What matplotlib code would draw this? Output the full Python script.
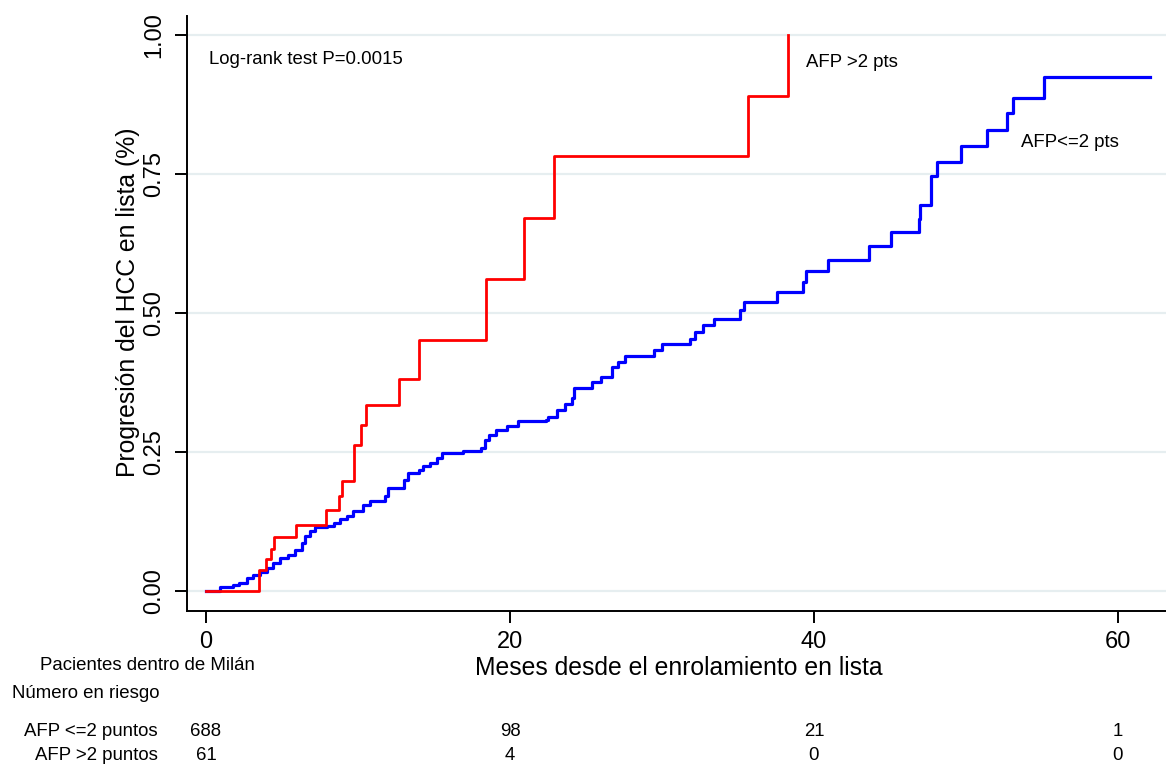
import matplotlib
matplotlib.use("Agg")
import matplotlib.pyplot as plt

plt.rcParams["font.family"] = ["Liberation Sans", "DejaVu Sans"]

# cumulative incidence, AFP <= 2 pts (blue)
low_t = [0, 0.9, 1.8, 2.2, 2.7, 3.1, 3.55, 4.0, 4.4, 4.9,
         5.4, 5.85, 6.3, 6.5, 6.85, 7.2, 7.95, 8.4, 8.8, 9.25,
         9.7, 10.35, 10.8, 11.45, 11.8, 12.0, 13.0, 13.3, 14.0, 14.3,
         14.75, 15.2, 15.5, 16.9, 18.1, 18.35, 18.6, 19.1, 19.8, 20.55,
         22.4, 22.5, 23.1, 23.6, 24.05, 24.2, 25.4, 26.0, 26.7, 27.1,
         27.55, 29.5, 30.0, 31.85, 32.2, 32.7, 33.4, 35.1, 35.4, 37.55,
         39.3, 39.5, 40.95, 43.6, 45.1, 46.9, 47.0, 47.7, 48.1, 49.7,
         51.4, 52.7, 53.1, 55.15, 62.1]
low_v = [0, .008, .010, .014, .023, .029, .035, .042, .051, .059,
         .065, .074, .086, .098, .107, .115, .117, .122, .130, .135,
         .144, .155, .161, .162, .170, .186, .200, .213, .218, .225,
         .230, .239, .249, .252, .258, .272, .281, .290, .297, .305,
         .308, .312, .326, .336, .347, .365, .375, .384, .402, .412,
         .423, .433, .444, .454, .466, .478, .490, .505, .520, .537,
         .556, .576, .595, .620, .645, .669, .695, .746, .772, .800,
         .829, .859, .886, .925, .925]

# cumulative incidence, AFP > 2 pts (red)
high_t = [0, 3.5, 3.95, 4.25, 4.5, 5.9, 7.9, 8.75, 8.95, 9.75,
          10.2, 10.5, 12.7, 14.0, 18.4, 20.9, 22.9, 35.65, 38.3]
high_v = [0, .038, .057, .076, .097, .119, .145, .170, .198, .263,
          .299, .335, .382, .451, .561, .671, .782, .891, 1.0]

x_ticks = [0, 20, 40, 60]
y_ticks = [0.0, 0.25, 0.5, 0.75, 1.0]
risk_low = ["688", "98", "21", "1"]
risk_high = ["61", "4", "0", "0"]

fig = plt.figure(figsize=(11.66, 7.67), dpi=100)
ax = fig.add_axes([187 / 1166, 1 - 611 / 767, 1 - 187 / 1166, (611 - 16) / 767])

for y in y_ticks:
    ax.axhline(y, color="#e6eef0", lw=1.6, zorder=0)

ax.step(low_t, low_v, where="post", color="#0000ff", lw=2.3, zorder=3)
ax.step(high_t, high_v, where="post", color="#ff0000", lw=2.0, zorder=4)

ax.set_xlim(-1.25, 63.16)
ax.set_ylim(-0.036, 1.034)
ax.set_xticks(x_ticks)
ax.set_yticks(y_ticks)
ax.set_yticklabels([f"{v:.2f}" for v in y_ticks], rotation=90, va="center")
ax.tick_params(axis="both", length=8.6, width=1.4, labelsize=17, color="black")
ax.tick_params(axis="x", pad=6)
ax.tick_params(axis="y", pad=7)
for side in ("top", "right"):
    ax.spines[side].set_visible(False)
for side in ("left", "bottom"):
    ax.spines[side].set_linewidth(1.4)

ax.text(0.2, 0.955, "Log-rank test P=0.0015", fontsize=13.4, va="center", ha="left")
ax.text(39.5, 0.95, "AFP >2 pts", fontsize=13.4, va="center", ha="left")
ax.text(53.6, 0.806, "AFP<=2 pts", fontsize=13.4, va="center", ha="left")

fig.text(128 / 1166, 1 - 302 / 767, "Progresión del HCC en lista (%)",
         rotation=90, fontsize=17.8, ha="center", va="center")
fig.text(679 / 1166, 1 - 668 / 767, "Meses desde el enrolamiento en lista",
         fontsize=17.8, ha="center", va="center")

fig.text(40 / 1166, 1 - 666 / 767, "Pacientes dentro de Milán",
         fontsize=13.4, ha="left", va="center")
fig.text(12 / 1166, 1 - 694 / 767, "Número en riesgo",
         fontsize=13.4, ha="left", va="center")
fig.text(158 / 1166, 1 - 732 / 767, "AFP <=2 puntos",
         fontsize=13.4, ha="right", va="center")
fig.text(158 / 1166, 1 - 755 / 767, "AFP >2 puntos",
         fontsize=13.4, ha="right", va="center")

for xt, lo, hi in zip(x_ticks, risk_low, risk_high):
    xf = fig.transFigure.inverted().transform(ax.transData.transform((xt, 0)))[0]
    fig.text(xf, 1 - 732 / 767, lo, fontsize=13.4, ha="center", va="center")
    fig.text(xf, 1 - 755 / 767, hi, fontsize=13.4, ha="center", va="center")

fig.savefig("out.png", dpi=100)
